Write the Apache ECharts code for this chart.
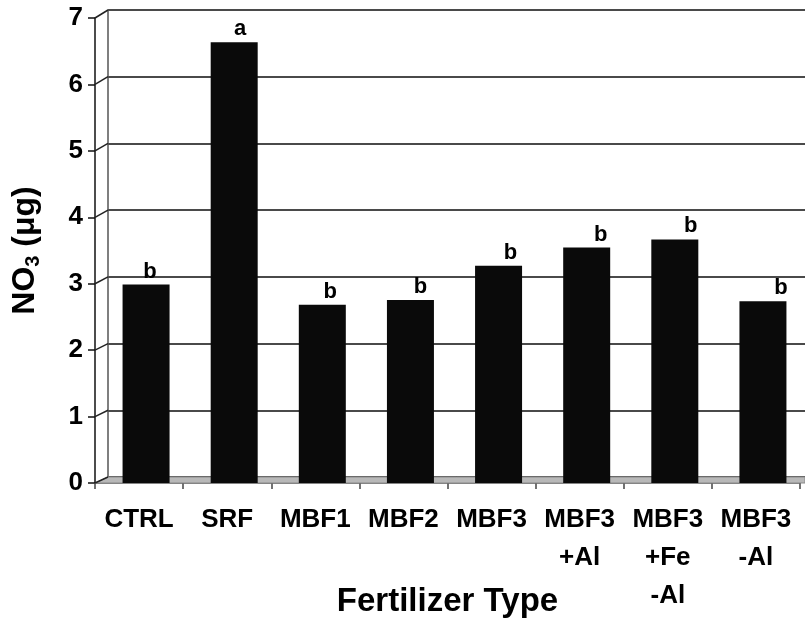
<!DOCTYPE html>
<html>
<head>
<meta charset="utf-8">
<script src="https://cdn.jsdelivr.net/npm/echarts@6/dist/echarts.min.js"></script>
<style>
html,body{margin:0;padding:0;background:#fff;}
#chart{width:805px;height:624px;}
</style>
</head>
<body>
<div id="chart"></div>
<script>
var categories = ['CTRL', 'SRF', 'MBF1', 'MBF2', 'MBF3', 'MBF3\n+Al', 'MBF3\n+Fe\n-Al', 'MBF3\n-Al'];
var no3Values = [2.95, 6.55, 2.65, 2.72, 3.23, 3.50, 3.62, 2.70];
var sigLetters = ['b', 'a', 'b', 'b', 'b', 'b', 'b', 'b'];
var yTicks = [0, 1, 2, 3, 4, 5, 6, 7];

var FONT = '"Liberation Sans", Arial, sans-serif';
var chart = echarts.init(document.getElementById('chart'), null, {renderer: 'canvas'});

var barData = no3Values.map(function (v, i) {
  return {value: v, label: {offset: [4 + 2 * i, 0]}};
});

var option = {
  backgroundColor: '#ffffff',
  animation: false,
  grid: [
    {left: 95, right: 5, top: 18, bottom: 141, containLabel: false, outerBoundsMode: 'none'},
    {left: 108, right: 0, top: 10, bottom: 147, containLabel: false, outerBoundsMode: 'none'},
    {left: 102, width: 705, top: 12, bottom: 141, containLabel: false, outerBoundsMode: 'none'}
  ],
  xAxis: [
    {
      type: 'category', gridIndex: 0, data: categories,
      axisLine: {show: true, lineStyle: {color: '#555', width: 1.5}},
      axisTick: {show: true, length: 6, lineStyle: {color: '#444', width: 1.5}},
      axisLabel: {
        color: '#000', fontFamily: FONT, fontWeight: 'bold', fontSize: 26,
        lineHeight: 38, margin: 18, interval: 0
      },
      name: 'Fertilizer Type', nameLocation: 'middle', nameGap: 102, nameMoveOverlap: false,
      nameTextStyle: {color: '#000', fontFamily: FONT, fontWeight: 'bold', fontSize: 33}
    },
    {type: 'category', gridIndex: 1, data: categories, show: false},
    {type: 'category', gridIndex: 2, data: categories, show: false}
  ],
  yAxis: [
    {
      type: 'value', gridIndex: 0, min: 0, max: 7, interval: 1,
      axisLine: {show: true, lineStyle: {color: '#111', width: 1.5}},
      axisTick: {show: true, length: 7, lineStyle: {color: '#111', width: 1.5}},
      axisLabel: {color: '#000', fontFamily: FONT, fontWeight: 'bold', fontSize: 26, margin: 12},
      splitLine: {show: false},
      name: '{a|NO}{s|3}{a| (μg)}', nameLocation: 'middle', nameRotate: 90, nameGap: 52, nameMoveOverlap: false,
      nameTextStyle: {
        rich: {
          a: {color: '#000', fontFamily: FONT, fontWeight: 'bold', fontSize: 32},
          s: {color: '#000', fontFamily: FONT, fontWeight: 'bold', fontSize: 20, verticalAlign: 'bottom', padding: [15, 0, 0, 0]}
        }
      }
    },
    {
      type: 'value', gridIndex: 1, min: 0, max: 7, interval: 1,
      axisLine: {show: true, lineStyle: {color: '#555', width: 1.5}},
      axisTick: {show: false}, axisLabel: {show: false},
      splitLine: {show: true, lineStyle: {color: '#4a4a4a', width: 1.8}}
    },
    {type: 'value', gridIndex: 2, min: 0, max: 7, interval: 1, show: false, splitLine: {show: false}}
  ],
  series: [
    {
      type: 'bar', xAxisIndex: 2, yAxisIndex: 2, data: barData,
      barWidth: 47,
      itemStyle: {color: '#0a0a0a'},
      label: {
        show: true, position: 'top', distance: 2,
        color: '#000', fontFamily: FONT, fontWeight: 'bold', fontSize: 22,
        formatter: function (p) { return sigLetters[p.dataIndex]; }
      },
      z: 5
    }
  ]
};
chart.setOption(option);

// 3D-style decorations: floor band and front-to-back connectors, placed via the axes' scales
var els = [];
var f0 = chart.convertToPixel({xAxisIndex: 0, yAxisIndex: 0}, [0, 0]);
var b0 = chart.convertToPixel({xAxisIndex: 1, yAxisIndex: 1}, [0, 0]);
var frontX = 95, backX = 108, rightX = 805;
els.push({
  type: 'polygon', z: 1, silent: true,
  shape: {points: [[frontX, f0[1]], [backX, b0[1]], [rightX, b0[1]], [rightX, f0[1]]]},
  style: {fill: '#b8b8b8', stroke: '#8a8a8a', lineWidth: 1}
});
yTicks.forEach(function (v) {
  var yf = chart.convertToPixel({yAxisIndex: 0}, v);
  var yb = chart.convertToPixel({yAxisIndex: 1}, v);
  els.push({
    type: 'line', z: 3, silent: true,
    shape: {x1: frontX, y1: yf, x2: backX, y2: yb},
    style: {stroke: '#222', lineWidth: 1.5}
  });
});
chart.setOption({graphic: els});
</script>
</body>
</html>
